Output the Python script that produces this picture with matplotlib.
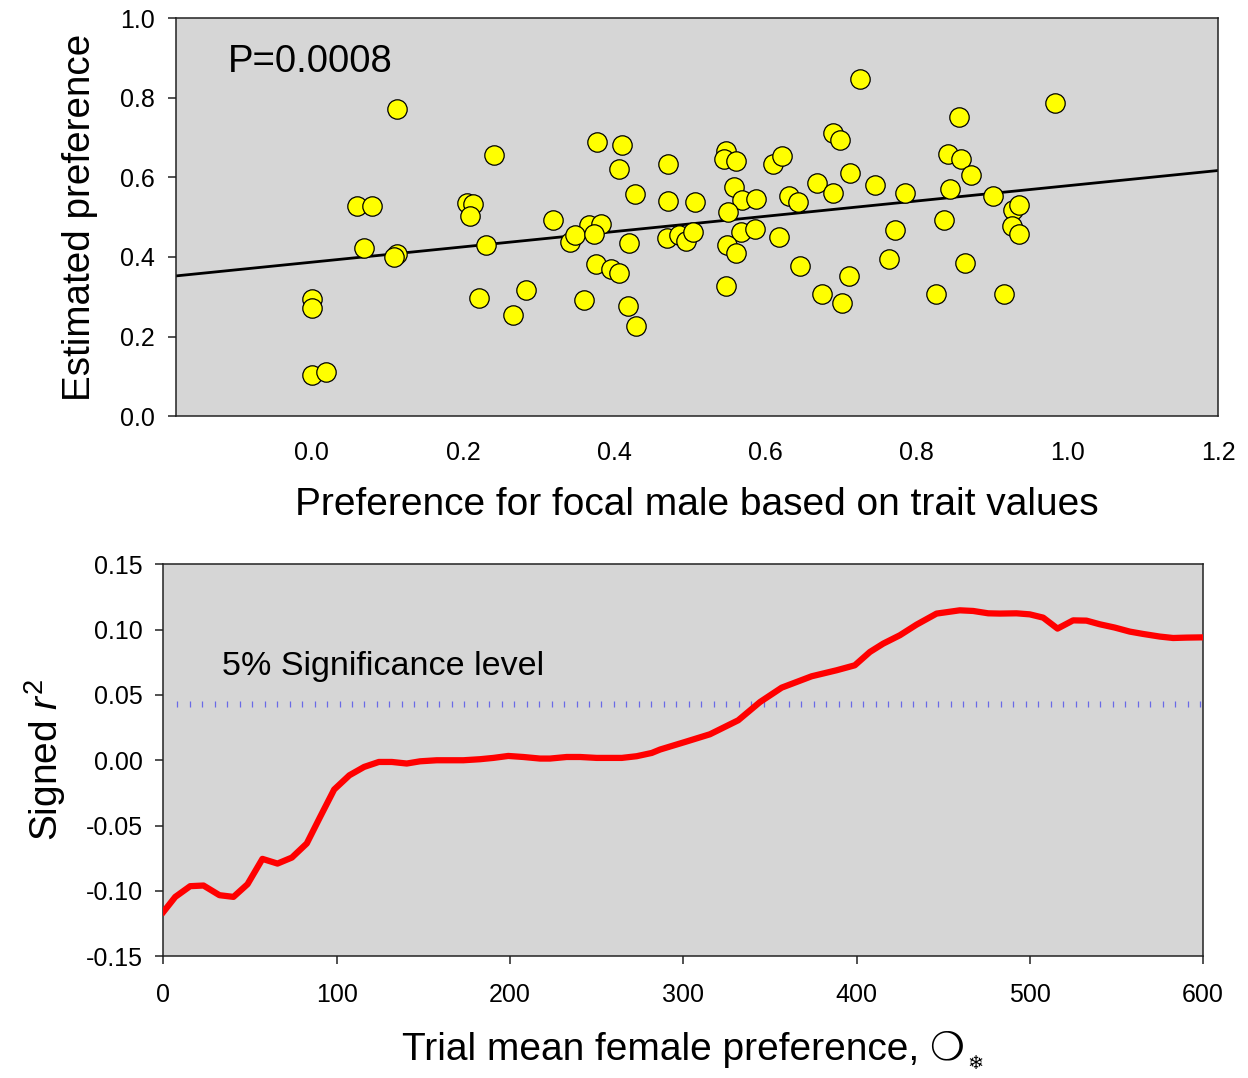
import numpy as np
import matplotlib
matplotlib.use("Agg")
import matplotlib.pyplot as plt

plt.rcParams['font.family'] = ['Liberation Sans', 'DejaVu Sans']
plt.rcParams['mathtext.fontset'] = 'custom'
plt.rcParams['mathtext.rm'] = 'Liberation Sans'
plt.rcParams['mathtext.it'] = 'Liberation Sans:italic'
plt.rcParams['axes.unicode_minus'] = False

# top panel: per-female preference, trait-based vs estimated
trait_pref = [0.113, 0.241, 0.060, 0.079, 0.205, 0.214, 0.210, 0.069, 0.113, 0.109,
              0.231, 0.000, 0.000, 0.221, 0.266, 0.283, 0.000, 0.019,
              0.726, 0.378, 0.411, 0.407, 0.472, 0.428, 0.472, 0.508, 0.548, 0.546,
              0.562, 0.610, 0.623, 0.690, 0.700, 0.669, 0.690, 0.713, 0.746, 0.559,
              0.570, 0.588, 0.632, 0.644, 0.551, 0.319, 0.367, 0.383, 0.342, 0.349,
              0.374, 0.420, 0.470, 0.486, 0.495, 0.505, 0.568, 0.587, 0.550, 0.562,
              0.619, 0.376, 0.396, 0.407, 0.646, 0.711, 0.548, 0.360, 0.418, 0.429,
              0.676, 0.702,
              0.984, 0.857, 0.842, 0.859, 0.873, 0.785, 0.845, 0.902, 0.929, 0.936,
              0.927, 0.936, 0.837, 0.772, 0.764, 0.865, 0.827, 0.917]
est_pref = [0.771, 0.656, 0.529, 0.529, 0.536, 0.534, 0.503, 0.423, 0.407, 0.399,
            0.431, 0.295, 0.271, 0.296, 0.254, 0.317, 0.103, 0.111,
            0.848, 0.689, 0.682, 0.620, 0.635, 0.558, 0.541, 0.537, 0.666, 0.647,
            0.641, 0.634, 0.654, 0.712, 0.693, 0.585, 0.562, 0.611, 0.580, 0.575,
            0.544, 0.547, 0.553, 0.537, 0.512, 0.492, 0.481, 0.483, 0.438, 0.456,
            0.457, 0.436, 0.449, 0.456, 0.441, 0.462, 0.463, 0.471, 0.431, 0.411,
            0.450, 0.382, 0.369, 0.359, 0.378, 0.353, 0.327, 0.291, 0.277, 0.227,
            0.307, 0.285,
            0.786, 0.752, 0.660, 0.647, 0.605, 0.562, 0.572, 0.554, 0.518, 0.530,
            0.479, 0.459, 0.492, 0.467, 0.394, 0.386, 0.306, 0.308]
fit_intercept = 0.387
fit_slope = 0.192
p_text = "P=0.0008"

# bottom panel: signed r^2 against trial mean female preference
trial_mean = [0, 6.8, 15.4, 23.1, 32.3, 40.4, 48.5, 57.1, 65.8, 74.1, 82.7, 90.4,
              98.5, 107.3, 115.8, 124.3, 131.8, 140.4, 148.1, 157.7, 173.1, 182.7,
              190.4, 199, 207.7, 217.3, 223.1, 232.7, 240.4, 250, 264.5, 273.1,
              281.8, 286.6, 301, 315.4, 331.7, 344.3, 356.8, 374.1, 388.5, 399,
              407.7, 415.4, 425, 434.6, 446.2, 450, 459.6, 467.3, 476, 482.7, 492.3,
              500, 507.7, 516, 525, 532.7, 540.4, 549, 557.7, 565.4, 575, 582.7,
              590.4, 600]
signed_r2 = [-0.116, -0.1046, -0.0964, -0.0959, -0.1033, -0.1046, -0.0949, -0.0755,
             -0.0791, -0.0745, -0.0637, -0.0434, -0.0224, -0.0115, -0.0051, -0.0013,
             -0.0013, -0.0025, -0.0008, 0.0, 0.0, 0.0008, 0.0018, 0.0033, 0.0025,
             0.0013, 0.0013, 0.0025, 0.0025, 0.0018, 0.0018, 0.0031, 0.0056, 0.0082,
             0.014, 0.0199, 0.0306, 0.0446, 0.0556, 0.0643, 0.0689, 0.0727, 0.0829,
             0.0893, 0.0957, 0.1038, 0.1123, 0.113, 0.1148, 0.1143, 0.1125, 0.1123,
             0.1125, 0.1117, 0.1092, 0.1008, 0.1071, 0.1069, 0.1041, 0.1016, 0.0985,
             0.0967, 0.0947, 0.0936, 0.0939, 0.0941]
sig_level = 0.043

BG = '#d6d6d6'
EDGE = '#222222'
TICK_FS = 18

fig = plt.figure(figsize=(12.48, 10.78), dpi=100)
ax1 = fig.add_axes([0.141, 0.614, 0.835, 0.369])
ax2 = fig.add_axes([0.131, 0.113, 0.833, 0.3635])

for ax in (ax1, ax2):
    ax.set_facecolor(BG)
    for sp in ax.spines.values():
        sp.set_color(EDGE)
        sp.set_linewidth(1.1)

# --- top panel
xlo, xhi = -0.18, 1.2
xx = np.array([xlo, xhi])
ax1.plot(xx, fit_intercept + fit_slope * xx, color='black', lw=2.0, zorder=2)
ax1.scatter(trait_pref, est_pref, s=195, c='#ffff00', edgecolors='black',
            linewidths=0.9, zorder=3)
ax1.text(-0.111, 0.89, p_text, fontsize=27.5, va='center', ha='left')
ax1.set_xlim(xlo, xhi)
ax1.set_ylim(0, 1.0)
ax1.set_xticks(np.arange(0, 1.21, 0.2))
ax1.set_xticklabels([f"{v:.1f}" for v in np.arange(0, 1.21, 0.2)])
ax1.set_yticks(np.arange(0, 1.01, 0.2))
ax1.set_yticklabels([f"{v:.1f}" for v in np.arange(0, 1.01, 0.2)])
ax1.tick_params(axis='x', length=0, pad=18, labelsize=TICK_FS)
ax1.tick_params(axis='y', length=6, width=1.1, color=EDGE, pad=9,
                labelsize=TICK_FS, direction='out')
ax1.set_xlabel("Preference for focal male based on trait values", fontsize=28,
               va='center')
ax1.xaxis.set_label_coords(0.5, -0.224)
ax1.set_ylabel("Estimated preference", fontsize=27.8, va='center')
ax1.yaxis.set_label_coords(-0.092, 0.5)

# --- bottom panel
sig_x = np.arange(8, 600, 7.2)
ax2.plot(sig_x, np.full(len(sig_x), sig_level), linestyle='none', marker='|',
         ms=4, mew=0.9, color='#6a6ae6', zorder=2)
ax2.plot(trial_mean, signed_r2, color='#ff0000', lw=4.5, zorder=3,
         solid_joinstyle='round')
ax2.text(34, 0.072, "5% Significance level", fontsize=24.5, va='center',
         ha='left')
ax2.set_xlim(0, 600)
ax2.set_ylim(-0.15, 0.15)
ax2.set_xticks(np.arange(0, 601, 100))
ax2.set_yticks(np.arange(-0.15, 0.151, 0.05))
ax2.set_yticklabels([f"{v:.2f}" for v in np.arange(-0.15, 0.151, 0.05)])
ax2.tick_params(axis='both', length=6, width=1.1, color=EDGE,
                labelsize=TICK_FS, direction='out')
ax2.tick_params(axis='x', pad=13)
ax2.tick_params(axis='y', pad=9)
ax2.set_xlabel("Trial mean female preference, \u274d", fontsize=28,
               va='center')
ax2.xaxis.set_label_coords(0.5, -0.2385)
ax2.annotate("\u2744", xy=(1.0, 0.12), xycoords=ax2.xaxis.label,
             xytext=(2, 0), textcoords='offset points', fontsize=14,
             ha='left', va='center', family=['DejaVu Sans'])
ax2.set_ylabel(r"Signed $r^2$", fontsize=28, va='center')
ax2.yaxis.set_label_coords(-0.114, 0.5)

fig.savefig("out.png", dpi=100)
